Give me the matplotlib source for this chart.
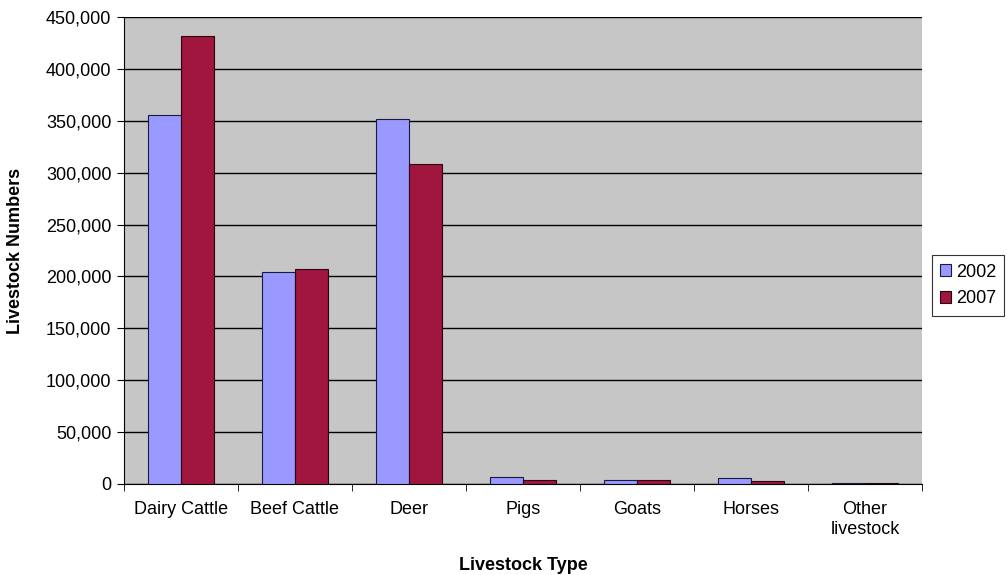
import matplotlib
matplotlib.use("Agg")
import matplotlib.pyplot as plt
import numpy as np
from matplotlib.ticker import FuncFormatter, MultipleLocator

categories = ["Dairy Cattle", "Beef Cattle", "Deer", "Pigs", "Goats", "Horses", "Other\nlivestock"]
values_2002 = [356000, 204000, 352000, 6500, 4000, 5500, 1000]
values_2007 = [432000, 207000, 308000, 4000, 4000, 3000, 800]
series_labels = ["2002", "2007"]

plt.rcParams['font.family'] = ['Liberation Sans', 'DejaVu Sans']
FS = 13

fig = plt.figure(figsize=(10.07, 5.75), dpi=100)
ax = fig.add_axes([0.1231, 0.1583, 0.7925, 0.8121])
ax.set_facecolor('#c6c6c6')

x = np.arange(len(categories))
w = 0.29
ax.bar(x - w/2, values_2002, width=w, color='#9999ff', edgecolor='#1a1a40', linewidth=0.8,
       label=series_labels[0], zorder=3)
ax.bar(x + w/2, values_2007, width=w, color='#a0163f', edgecolor='#2a0010', linewidth=0.8,
       label=series_labels[1], zorder=3)

ax.set_xlim(-0.5, len(categories) - 0.5)
ax.set_ylim(0, 450000)
ax.yaxis.set_major_locator(MultipleLocator(50000))
ax.yaxis.set_major_formatter(FuncFormatter(lambda v, p: f"{int(v):,}"))
ax.grid(axis='y', color='black', linewidth=1.0, zorder=1)
ax.set_axisbelow(True)

ax.set_xticks(x)
ax.set_xticklabels(categories, fontsize=FS, linespacing=1.25)
ax.set_xticks(np.arange(-0.5, len(categories) + 0.5, 1), minor=True)
ax.tick_params(axis='x', which='major', length=0, pad=12)
ax.tick_params(axis='x', which='minor', length=5, direction='out', color='black')
ax.tick_params(axis='y', which='major', length=5, direction='out', labelsize=FS, pad=4)

for s in ['top', 'right']:
    ax.spines[s].set_visible(False)
ax.spines['left'].set_color('black')
ax.spines['bottom'].set_color('black')

ax.set_xlabel("Livestock Type", fontsize=FS, fontweight='bold', labelpad=14)
ax.set_ylabel("Livestock Numbers", fontsize=FS, fontweight='bold', labelpad=16)

leg = ax.legend(loc='center left', bbox_to_anchor=(1.012, 0.425), frameon=True, fontsize=FS,
                handlelength=0.6, handleheight=0.6, handletextpad=0.3, borderpad=0.45,
                labelspacing=0.55, fancybox=False, edgecolor='black', borderaxespad=0.0)
leg.get_frame().set_linewidth(0.8)

fig.savefig("out.png", dpi=100, facecolor='white')
